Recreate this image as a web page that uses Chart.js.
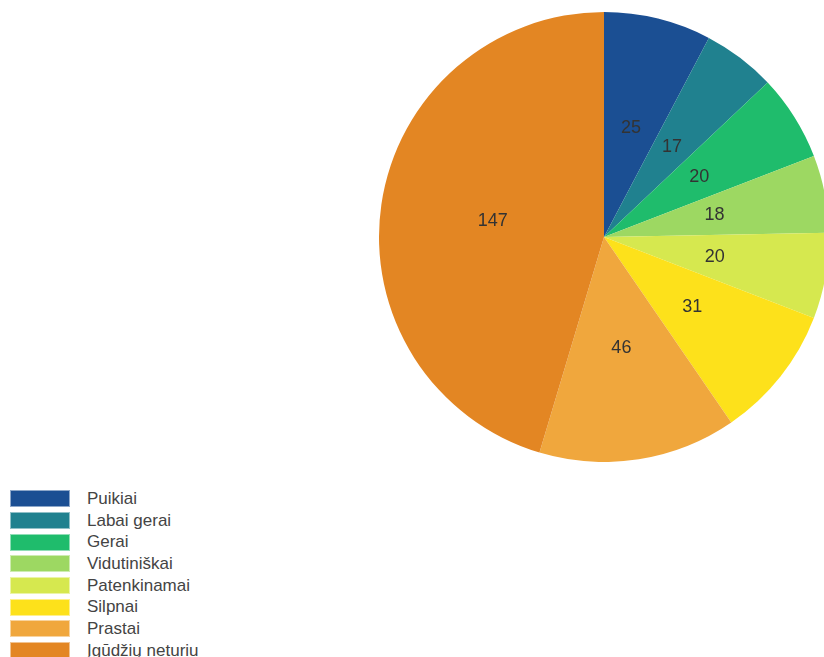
<!DOCTYPE html>
<html>
<head>
<meta charset="utf-8">
<script src="https://cdn.jsdelivr.net/npm/chart.js@4"></script>
<style>
    html, body { margin: 0; padding: 0; width: 824px; height: 657px; overflow: hidden; background: #fff; }
    #wrap { position: absolute; left: 379px; top: 12px; width: 450px; height: 450px; }
    #legend { position: absolute; left: 10px; top: 488px; font-family: "Liberation Sans", Arial, sans-serif; font-size: 17px; color: #444; }
    .item { display: flex; align-items: center; height: 21.7px; }
    .box { width: 60px; height: 17px; margin-right: 17px; box-sizing: border-box; border: 1px solid rgba(255,255,255,0.5); }
</style>
</head>
<body>
<div id="wrap"><canvas id="chart" width="450" height="450"></canvas></div>
<div id="legend"></div>
<script>
const labels = ["Puikiai", "Labai gerai", "Gerai", "Vidutiniškai", "Patenkinamai", "Silpnai", "Prastai", "Įgūdžių neturiu"];
const values = [25, 17, 20, 18, 20, 31, 46, 147];
const colors = ["#1b4f93", "#20818f", "#1fbc6c", "#9dd862", "#d6e84f", "#fde11b", "#f0a73d", "#e38623"];

// numbers in the middle of each slice
const sliceLabels = {
    id: "sliceLabels",
    afterDatasetsDraw(chart) {
        const ctx = chart.ctx;
        const meta = chart.getDatasetMeta(0);
        ctx.save();
        ctx.font = "18px 'Liberation Sans', Arial, sans-serif";
        ctx.fillStyle = "#333";
        ctx.textAlign = "center";
        ctx.textBaseline = "middle";
        meta.data.forEach((arc, i) => {
            const p = arc.tooltipPosition();
            ctx.fillText(String(chart.data.datasets[0].data[i]), p.x, p.y);
        });
        ctx.restore();
    }
};

const chart = new Chart(document.getElementById("chart"), {
    type: "pie",
    data: {
        labels: labels,
        datasets: [{
            data: values,
            backgroundColor: colors,
            borderWidth: 0,
        }]
    },
    options: {
        responsive: false,
        animation: false,
        layout: { padding: 0 },
        plugins: {
            legend: { display: false },
            tooltip: { enabled: false },
        }
    },
    plugins: [sliceLabels]
});

// legend in html, built from the chart's own labels
const legend = document.getElementById("legend");
chart.options.plugins.legend.labels.generateLabels(chart).forEach(item => {
    const row = document.createElement("div");
    row.className = "item";
    const box = document.createElement("span");
    box.className = "box";
    box.style.background = item.fillStyle;
    const text = document.createElement("span");
    text.textContent = item.text;
    row.appendChild(box);
    row.appendChild(text);
    legend.appendChild(row);
});
</script>
</body>
</html>
